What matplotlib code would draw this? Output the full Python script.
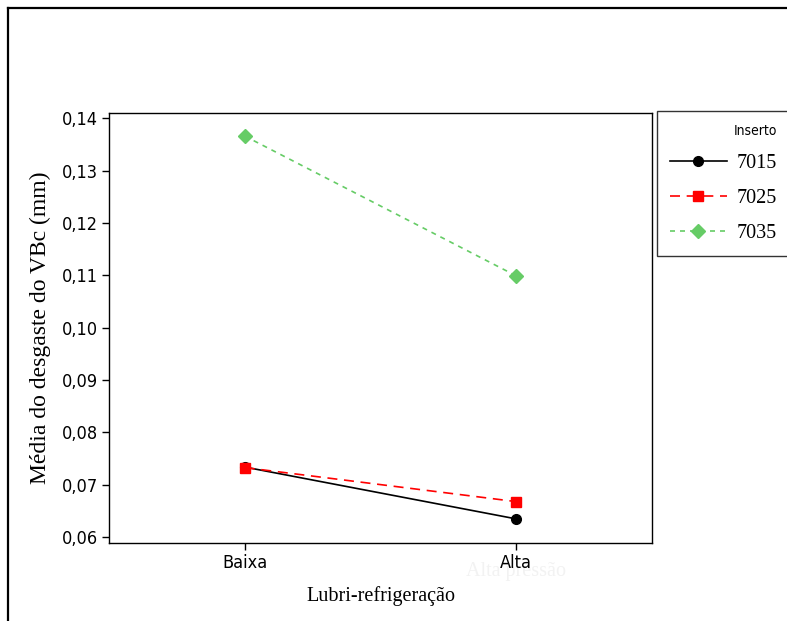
import matplotlib.pyplot as plt
from matplotlib.lines import Line2D
from matplotlib.font_manager import FontProperties

levels = ['Baixa', 'Alta']
inserts = ['7015', '7025', '7035']
vbc_7015 = [0.0734, 0.0635]
vbc_7025 = [0.0733, 0.0668]
vbc_7035 = [0.1366, 0.1099]
yticks = [0.06, 0.07, 0.08, 0.09, 0.10, 0.11, 0.12, 0.13, 0.14]

serif = ['Liberation Serif', 'DejaVu Serif']


def narrow(size):
    return FontProperties(family='DejaVu Sans', stretch='condensed', size=size)


fig = plt.figure(figsize=(7.87, 6.21), dpi=100)
ax = fig.add_axes([0.1385, 0.1256, 0.6900, 0.6924])

x = range(len(levels))
ax.plot(x, vbc_7015, color='black', lw=1.2, ls='-', marker='o', ms=7, label=inserts[0])
ax.plot(x, vbc_7025, color='#ff0000', lw=1.2, ls=(0, (6, 4)), marker='s', ms=7, label=inserts[1])
ax.plot(x, vbc_7035, color='#66cc66', lw=1.2, ls=(0, (3, 3)), marker='D', ms=7, label=inserts[2])

ax.set_xlim(-0.5, 1.5)
ax.set_ylim(0.0589, 0.1410)
ax.set_xticks(list(x))
ax.set_xticklabels(levels, fontproperties=narrow(13))
ax.set_yticks(yticks)
ax.set_yticklabels([('%.2f' % v).replace('.', ',') for v in yticks], fontproperties=narrow(13))
ax.tick_params(direction='out', length=5, width=1, color='black', pad=3)
for s in ax.spines.values():
    s.set_linewidth(1)

ax.set_ylabel('Média do desgaste do VBc (mm)', family=serif, fontsize=17, labelpad=8)
ax.set_xlabel('Lubri-refrigeração', family=serif, fontsize=14.5, labelpad=10)

# faint ghost text behind the right tick label
ax.text(1.0, -0.045, 'Alta pressão', transform=ax.get_xaxis_transform(), ha='center', va='top',
        family=serif, fontsize=14.5, color='#f2f2f2', zorder=0)

# legend box
handles = [
    Line2D([], [], color='black', lw=1.2, marker='o', ms=7),
    Line2D([], [], color='#ff0000', lw=1.2, ls=(0, (6, 4)), marker='s', ms=7),
    Line2D([], [], color='#66cc66', lw=1.2, ls=(0, (3, 3)), marker='D', ms=7),
]
leg = fig.legend(handles, inserts, loc='upper left', bbox_to_anchor=(0.835, 0.821),
                 prop={'family': serif, 'size': 14.5}, title='Inserto',
                 title_fontproperties=narrow(10),
                 frameon=True, fancybox=False, edgecolor='black', handlelength=2.8,
                 borderpad=0.65, borderaxespad=0, labelspacing=0.78, handletextpad=0.5,
                 alignment='right')
leg.get_frame().set_linewidth(1)

# outer border
fig.add_artist(Line2D([0.0102, 0.0102], [0.0, 0.987], transform=fig.transFigure, color='black', lw=1.6))
fig.add_artist(Line2D([0.0102, 1.0], [0.987, 0.987], transform=fig.transFigure, color='black', lw=1.6))

fig.savefig('out.png', dpi=100)
